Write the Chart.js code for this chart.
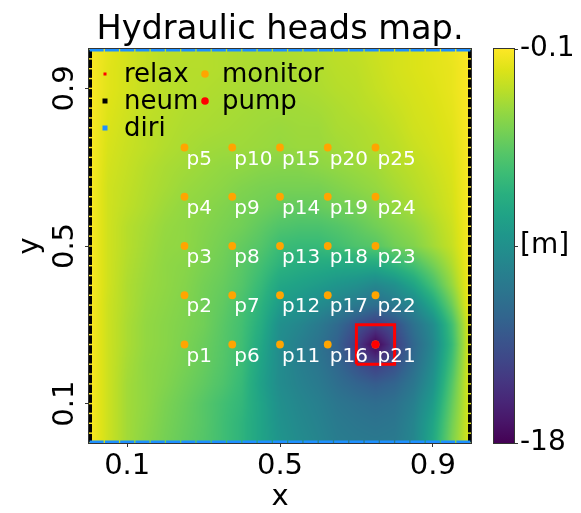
<!DOCTYPE html>
<html>
<head>
<meta charset="utf-8">
<script src="https://cdn.jsdelivr.net/npm/chart.js@4.4.1/dist/chart.umd.min.js"></script>
<style>
html, body { margin: 0; padding: 0; background: #fff; }
#wrap { width: 581px; height: 513px; }
</style>
</head>
<body>
<div id="wrap"><canvas id="headsChart"></canvas></div>
<script>
// head field, nodes every 0.05 (rows go from y=1 down to y=0)
const xNodes = [0, 0.05, 0.1, 0.15, 0.2, 0.25, 0.3, 0.35, 0.4, 0.45, 0.5, 0.55, 0.6, 0.65, 0.7, 0.75, 0.8, 0.85, 0.9, 0.95, 1];
const yNodes = [1, 0.95, 0.9, 0.85, 0.8, 0.75, 0.7, 0.65, 0.6, 0.55, 0.5, 0.45, 0.4, 0.35, 0.3, 0.25, 0.2, 0.15, 0.1, 0.05, 0];
const heads = [
  [-0.1,-0.8,-1.3,-1.7,-2.0,-2.0,-2.1,-2.2,-2.3,-2.3,-2.3,-2.2,-2.1,-1.9,-1.8,-1.5,-1.3,-1.1,-0.9,-0.6,-0.1],
  [-0.1,-0.9,-1.3,-1.7,-2.0,-2.1,-2.1,-2.2,-2.3,-2.4,-2.4,-2.3,-2.2,-2.0,-1.9,-1.6,-1.3,-1.1,-0.9,-0.7,-0.1],
  [-0.1,-0.9,-1.3,-1.7,-2.0,-2.1,-2.2,-2.3,-2.4,-2.5,-2.5,-2.4,-2.3,-2.1,-2.0,-1.7,-1.4,-1.2,-1.0,-0.7,-0.1],
  [-0.1,-1.0,-1.4,-1.8,-2.0,-2.2,-2.3,-2.4,-2.5,-2.6,-2.6,-2.6,-2.5,-2.3,-2.1,-1.9,-1.6,-1.3,-1.1,-0.8,-0.1],
  [-0.1,-1.1,-1.5,-1.9,-2.1,-2.3,-2.4,-2.5,-2.6,-2.7,-2.8,-2.7,-2.7,-2.4,-2.3,-2.1,-1.8,-1.4,-1.2,-0.9,-0.1],
  [-0.1,-1.2,-1.6,-1.9,-2.2,-2.4,-2.6,-2.7,-2.7,-2.8,-2.9,-2.8,-2.8,-2.6,-2.4,-2.2,-2.0,-1.6,-1.3,-1.0,-0.1],
  [-0.1,-1.3,-1.7,-2.1,-2.4,-2.6,-2.8,-3.0,-3.1,-3.3,-3.4,-3.4,-3.2,-3.0,-2.8,-2.6,-2.2,-1.9,-1.5,-1.1,-0.1],
  [-0.1,-1.4,-1.8,-2.2,-2.5,-2.8,-3.0,-3.2,-3.5,-3.7,-3.8,-3.8,-3.8,-3.5,-3.2,-2.9,-2.5,-2.1,-1.7,-1.2,-0.1],
  [-0.1,-1.4,-1.9,-2.3,-2.7,-3.0,-3.2,-3.5,-3.8,-4.0,-4.3,-4.4,-4.3,-4.0,-3.8,-3.4,-2.9,-2.4,-1.9,-1.3,-0.1],
  [-0.1,-1.4,-2.1,-2.5,-2.9,-3.1,-3.4,-3.7,-4.0,-4.5,-5.0,-5.2,-5.2,-4.9,-4.5,-4.0,-3.5,-3.0,-2.3,-1.5,-0.1],
  [-0.1,-1.4,-2.1,-2.6,-3.0,-3.1,-3.5,-3.9,-4.4,-4.9,-5.8,-6.0,-6.0,-5.6,-5.1,-4.8,-4.0,-3.5,-2.6,-1.7,-0.1],
  [-0.1,-1.4,-2.2,-2.7,-3.1,-3.3,-3.7,-4.1,-4.7,-5.5,-6.5,-6.9,-7.1,-7.3,-7.3,-7.3,-6.5,-5.5,-4.0,-2.3,-0.1],
  [-0.1,-1.4,-2.3,-2.8,-3.1,-3.4,-3.9,-4.3,-4.9,-6.0,-7.4,-7.8,-8.2,-8.7,-9.1,-9.8,-9.1,-7.6,-5.5,-3.0,-0.1],
  [-0.1,-1.5,-2.3,-2.9,-3.2,-3.5,-4.0,-4.5,-5.3,-6.5,-8.2,-8.7,-9.4,-10.1,-10.8,-11.6,-10.8,-9.8,-7.4,-4.2,-0.1],
  [-0.1,-1.5,-2.4,-3.0,-3.3,-3.6,-4.0,-4.7,-5.5,-6.9,-9.1,-9.8,-10.7,-11.9,-13.5,-14.8,-13.7,-11.4,-9.4,-5.6,-0.5],
  [-0.1,-1.5,-2.4,-3.0,-3.3,-3.7,-4.2,-4.8,-5.6,-7.3,-9.4,-10.3,-11.2,-12.5,-14.8,-18.0,-14.8,-12.1,-9.8,-6.0,-0.6],
  [-0.1,-1.5,-2.5,-3.1,-3.4,-3.8,-4.3,-4.9,-5.8,-7.6,-9.4,-10.3,-11.0,-12.1,-13.5,-14.8,-13.7,-11.7,-9.4,-5.5,-0.6],
  [-0.1,-1.5,-2.6,-3.1,-3.5,-4.0,-4.5,-5.1,-6.0,-7.8,-9.4,-10.1,-10.7,-11.6,-12.3,-12.8,-12.3,-11.0,-8.9,-4.9,-0.6],
  [-0.1,-1.5,-2.6,-3.1,-3.7,-4.2,-4.8,-5.5,-6.2,-7.6,-9.1,-9.8,-10.3,-11.0,-11.4,-11.7,-11.4,-10.3,-8.2,-4.4,-0.8],
  [-0.1,-1.5,-2.6,-3.2,-3.8,-4.3,-4.8,-5.6,-6.4,-7.6,-8.9,-9.6,-10.1,-10.7,-11.0,-11.2,-11.0,-9.9,-7.6,-4.0,-0.8],
  [-0.1,-1.5,-2.6,-3.3,-3.9,-4.4,-4.9,-5.6,-6.4,-7.6,-8.7,-9.4,-9.9,-10.5,-10.7,-10.8,-10.7,-9.8,-7.3,-3.7,-0.8]
];
const headMin = -18;
const headMax = -0.1;

const monitorNames = ['p1','p2','p3','p4','p5','p6','p7','p8','p9','p10','p11','p12','p13','p14','p15',
  'p16','p17','p18','p19','p20','p21','p22','p23','p24','p25'];
const monitorX = [0.25,0.25,0.25,0.25,0.25, 0.375,0.375,0.375,0.375,0.375, 0.5,0.5,0.5,0.5,0.5,
  0.625,0.625,0.625,0.625,0.625, 0.75,0.75,0.75,0.75,0.75];
const monitorY = [0.25,0.375,0.5,0.625,0.75, 0.25,0.375,0.5,0.625,0.75, 0.25,0.375,0.5,0.625,0.75,
  0.25,0.375,0.5,0.625,0.75, 0.25,0.375,0.5,0.625,0.75];
const pumpX = [0.75];
const pumpY = [0.25];
const pumpBoxX = [0.7, 0.8, 0.8, 0.7, 0.7];
const pumpBoxY = [0.2, 0.2, 0.3, 0.3, 0.2];
const relaxX = [];
const relaxY = [];
const neumX = [0, 1];
const neumY = [0.0125,0.0375,0.0625,0.0875,0.1125,0.1375,0.1625,0.1875,0.2125,0.2375,0.2625,0.2875,0.3125,0.3375,
  0.3625,0.3875,0.4125,0.4375,0.4625,0.4875,0.5125,0.5375,0.5625,0.5875,0.6125,0.6375,0.6625,0.6875,0.7125,0.7375,
  0.7625,0.7875,0.8125,0.8375,0.8625,0.8875,0.9125,0.9375,0.9625,0.9875];
const diriX = [0.02,0.06,0.10,0.14,0.18,0.22,0.26,0.30,0.34,0.38,0.42,0.46,0.50,0.54,0.58,0.62,0.66,0.70,0.74,
  0.78,0.82,0.86,0.90,0.94,0.98];
const diriY = [0, 1];

const xTicks = [0.1, 0.5, 0.9];
const yTicks = [0.1, 0.5, 0.9];
const cbTicks = [-18, -9.05, -0.1];
const cbLabels = ['-18', '[m]', '-0.1'];

const viridis = ['#440154','#481568','#482677','#453781','#3f4788','#39558c','#32648e','#2d718e','#287d8e','#238a8d',
  '#1f968b','#20a386','#29af7f','#3cbc75','#56c667','#75d054','#95d840','#bade28','#dde318','#fde725'];
const cmap = viridis.map(h => { const n = parseInt(h.slice(1), 16); return [n >> 16 & 255, n >> 8 & 255, n & 255]; });

function colorAt(t) {
  t = Math.min(1, Math.max(0, t));
  const f = t * (cmap.length - 1);
  const i = Math.min(cmap.length - 2, Math.floor(f));
  const u = f - i;
  return [0, 1, 2].map(k => cmap[i][k] + (cmap[i + 1][k] - cmap[i][k]) * u);
}

function findCell(nodes, v) {
  for (let i = 0; i < nodes.length - 1; i++) {
    const a = nodes[i], b = nodes[i + 1];
    if ((v - a) * (v - b) <= 0) return [i, (v - a) / (b - a)];
  }
  const lo = Math.abs(v - nodes[0]) < Math.abs(v - nodes[nodes.length - 1]);
  return lo ? [0, 0] : [nodes.length - 2, 1];
}

// paints the head field under the datasets, pixel by pixel through the scales
const headMapPlugin = {
  id: 'headMap',
  beforeDatasetsDraw(chart) {
    const {ctx, chartArea: a, scales: {x, y}} = chart;
    const w = Math.round(a.right - a.left), h = Math.round(a.bottom - a.top);
    const off = document.createElement('canvas');
    off.width = w; off.height = h;
    const octx = off.getContext('2d');
    const img = octx.createImageData(w, h);
    const cols = [], rows = [];
    for (let px = 0; px < w; px++) cols.push(findCell(xNodes, x.getValueForPixel(a.left + px + 0.5)));
    for (let py = 0; py < h; py++) rows.push(findCell(yNodes, y.getValueForPixel(a.top + py + 0.5)));
    for (let py = 0; py < h; py++) {
      const [j, v] = rows[py];
      for (let px = 0; px < w; px++) {
        const [i, u] = cols[px];
        const top = heads[j][i] * (1 - u) + heads[j][i + 1] * u;
        const bot = heads[j + 1][i] * (1 - u) + heads[j + 1][i + 1] * u;
        const val = top * (1 - v) + bot * v;
        const c = colorAt((val - headMin) / (headMax - headMin));
        const k = (py * w + px) * 4;
        img.data[k] = c[0]; img.data[k + 1] = c[1]; img.data[k + 2] = c[2]; img.data[k + 3] = 255;
      }
    }
    octx.putImageData(img, 0, 0);
    ctx.drawImage(off, a.left, a.top);
    ctx.save();
    ctx.strokeStyle = '#333';
    ctx.lineWidth = 1;
    ctx.strokeRect(a.left - 0.5, a.top - 0.5, w + 1, h + 1);
    ctx.restore();
  },
  afterDraw(chart) {
    // colour bar next to the map, on the cb scale
    const {ctx, chartArea: a, scales: {cb}} = chart;
    const yTop = cb.getPixelForValue(headMax), yBot = cb.getPixelForValue(headMin);
    const x0 = a.right + 23, bw = 20;
    const grad = ctx.createLinearGradient(0, yBot, 0, yTop);
    viridis.forEach((c, i) => grad.addColorStop(i / (viridis.length - 1), c));
    ctx.save();
    ctx.fillStyle = grad;
    ctx.fillRect(x0, yTop, bw, yBot - yTop);
    ctx.strokeStyle = '#333';
    ctx.lineWidth = 1;
    ctx.strokeRect(x0 - 0.5, yTop - 0.5, bw + 1, yBot - yTop + 1);
    cbTicks.forEach(t => {
      const py = Math.round(cb.getPixelForValue(t)) + 0.5;
      ctx.beginPath();
      ctx.moveTo(x0 + bw, py);
      ctx.lineTo(x0 + bw + 4, py);
      ctx.stroke();
    });
    ctx.restore();
  }
};

const labelPlugin = {
  id: 'monitorLabels',
  afterDatasetsDraw(chart) {
    const {ctx} = chart;
    const meta = chart.getDatasetMeta(2);
    ctx.save();
    ctx.font = '20px "DejaVu Sans"';
    ctx.fillStyle = '#fff';
    ctx.textAlign = 'left';
    ctx.textBaseline = 'alphabetic';
    meta.data.forEach((pt, i) => ctx.fillText(monitorNames[i], pt.x + 2, pt.y + 17));

    // legend, two columns in the top-left corner
    const a = chart.chartArea;
    const entries = [
      {ds: 3, col: 0, row: 0, shape: 'sq', size: 3},
      {ds: 5, col: 0, row: 1, shape: 'sq', size: 5},
      {ds: 4, col: 0, row: 2, shape: 'sq', size: 5},
      {ds: 2, col: 1, row: 0, shape: 'dot', size: 3.8},
      {ds: 0, col: 1, row: 1, shape: 'dot', size: 3.8}
    ];
    ctx.font = '26px "DejaVu Sans"';
    entries.forEach(e => {
      const ds = chart.data.datasets[e.ds];
      const mx = a.left + 16 + e.col * 100;
      const my = a.top + 25 + e.row * 27;
      ctx.fillStyle = ds.legendColor;
      if (e.shape === 'sq') {
        ctx.fillRect(mx - e.size / 2, my - e.size / 2, e.size, e.size);
      } else {
        ctx.beginPath();
        ctx.arc(mx, my, e.size, 0, Math.PI * 2);
        ctx.fill();
      }
      ctx.fillStyle = '#000';
      ctx.fillText(ds.label, mx + (e.col ? 17 : 19), my + 8);
    });
    ctx.restore();
  }
};

Chart.defaults.font.family = '"DejaVu Sans"';
Chart.defaults.color = '#000';

new Chart(document.getElementById('headsChart'), {
  type: 'scatter',
  data: {
    datasets: [
      {
        label: 'pump', legendColor: '#ff0000',
        data: pumpX.map((x, i) => ({x, y: pumpY[i]})),
        pointRadius: 4, pointBackgroundColor: '#ff0000', pointBorderWidth: 0
      },
      {
        label: 'pump box',
        data: pumpBoxX.map((x, i) => ({x, y: pumpBoxY[i]})),
        showLine: true, borderColor: '#ff0000', borderWidth: 3, pointRadius: 0, fill: false
      },
      {
        label: 'monitor', legendColor: '#ffa500',
        data: monitorX.map((x, i) => ({x, y: monitorY[i]})),
        pointRadius: 3.9, pointBackgroundColor: '#ffa500', pointBorderWidth: 0
      },
      {
        label: 'relax', legendColor: '#ff0000',
        data: relaxX.map((x, i) => ({x, y: relaxY[i]})),
        pointStyle: 'rect', pointRadius: 2, pointBackgroundColor: '#ff0000', pointBorderWidth: 0
      },
      {
        label: 'diri', legendColor: '#1e90ff',
        data: diriY.flatMap(y => diriX.map(x => ({x, y}))),
        pointStyle: 'line', pointRadius: 7, pointBorderWidth: 5, pointBorderColor: '#1e90ff', clip: 0
      },
      {
        label: 'neum', legendColor: '#000000',
        data: neumX.flatMap(x => neumY.map(y => ({x, y}))),
        pointStyle: 'line', pointRotation: 90, pointRadius: 4.2, pointBorderWidth: 6, pointBorderColor: '#000', clip: 0
      }
    ]
  },
  options: {
    responsive: true,
    maintainAspectRatio: false,
    animation: false,
    events: [],
    layout: {padding: 0},
    plugins: {
      legend: {display: false},
      tooltip: {enabled: false},
      title: {
        display: true,
        text: 'Hydraulic heads map.',
        fullSize: false,
        color: '#000',
        font: {size: 33.6, weight: 'normal', lineHeight: 1},
        padding: {top: 13.5, bottom: 1.9}
      }
    },
    scales: {
      x: {
        type: 'linear', min: 0, max: 1,
        afterBuildTicks: s => { s.ticks = xTicks.map(v => ({value: v})); },
        afterFit: s => { s.height = 70; },
        ticks: {font: {size: 29}, padding: 2, autoSkip: false, maxRotation: 0, callback: v => v.toFixed(1)},
        grid: {drawOnChartArea: false, tickLength: 4, color: '#333'},
        border: {color: '#333'},
        title: {display: true, text: 'x', font: {size: 29, lineHeight: 1}, padding: {top: 0, bottom: 1}}
      },
      y: {
        type: 'linear', min: 0, max: 1,
        afterBuildTicks: s => { s.ticks = yTicks.map(v => ({value: v})); },
        afterFit: s => { s.width = 89; },
        ticks: {font: {size: 29}, padding: -4, autoSkip: false, minRotation: 90, maxRotation: 90,
          crossAlign: 'center', callback: v => v.toFixed(1)},
        grid: {drawOnChartArea: false, tickLength: 4, color: '#333'},
        border: {color: '#333'},
        title: {display: true, text: 'y', font: {size: 29, lineHeight: 1}, padding: {top: 16, bottom: 0}}
      },
      cb: {
        type: 'linear', position: 'right', min: headMin, max: headMax,
        afterBuildTicks: s => { s.ticks = cbTicks.map(v => ({value: v})); },
        afterFit: s => { s.width = 110; },
        ticks: {font: {size: 28}, padding: 0, autoSkip: false,
          callback: v => cbLabels[cbTicks.indexOf(v)]},
        grid: {display: true, drawOnChartArea: false, drawTicks: true, tickLength: 49, color: 'rgba(0,0,0,0)'},
        border: {display: false}
      }
    }
  },
  plugins: [headMapPlugin, labelPlugin]
});
</script>
</body>
</html>
